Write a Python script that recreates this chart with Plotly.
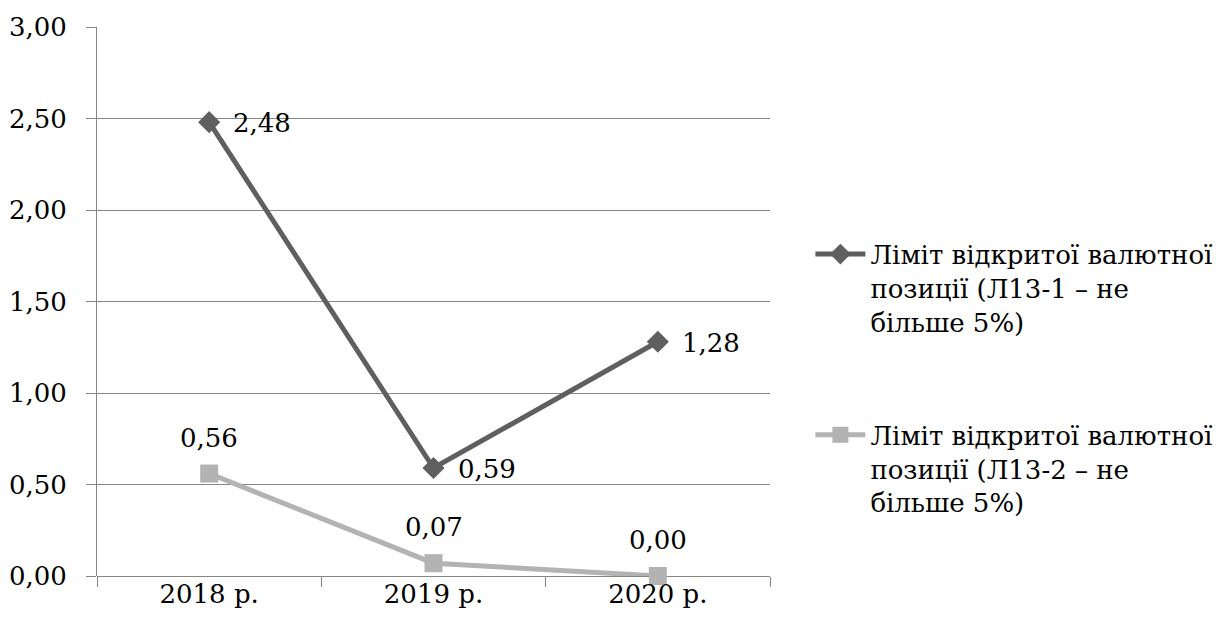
import plotly.graph_objects as go

years = ["2018 р.", "2019 р.", "2020 р."]
limit_l13_1 = [2.48, 0.59, 1.28]
limit_l13_2 = [0.56, 0.07, 0.00]
name_l13_1 = "Ліміт відкритої валютної<br>позиції (Л13-1 – не<br>більше 5%)"
name_l13_2 = "Ліміт відкритої валютної<br>позиції (Л13-2 – не<br>більше 5%)"

FONT = "DejaVu Serif"
GRID = "#878787"
DARK = "#5f5f5f"
LIGHT = "#b3b3b3"
FS = 26

def fmt(v):
    return f"{v:.2f}".replace(".", ",")

fig = go.Figure()
fig.add_trace(go.Scatter(
    x=years, y=limit_l13_1, name=name_l13_1, mode="lines+markers",
    line=dict(color=DARK, width=5),
    marker=dict(symbol="diamond", size=17, color=DARK),
    legend="legend", cliponaxis=False,
))
fig.add_trace(go.Scatter(
    x=years, y=limit_l13_2, name=name_l13_2, mode="lines+markers",
    line=dict(color=LIGHT, width=5),
    marker=dict(symbol="square", size=18, color=LIGHT),
    legend="legend2", cliponaxis=False,
))

# value labels: right of the dark series, above the light series
for x, v in zip(years, limit_l13_1):
    fig.add_annotation(x=x, y=v, text=fmt(v), showarrow=False,
                       xanchor="left", yanchor="middle", xshift=22, yshift=-1,
                       font=dict(family=FONT, size=FS, color="#000"))
for x, v in zip(years, limit_l13_2):
    fig.add_annotation(x=x, y=v, text=fmt(v), showarrow=False,
                       xanchor="center", yanchor="middle", yshift=36,
                       font=dict(family=FONT, size=FS, color="#000"))

legend_common = dict(
    font=dict(family=FONT, size=FS, color="#000"),
    bgcolor="rgba(0,0,0,0)", xanchor="left", yanchor="top",
    valign="top", itemwidth=50, tracegroupgap=0,
)

fig.update_layout(
    width=1230, height=630,
    margin=dict(l=97, r=460, t=27, b=54),
    paper_bgcolor="white", plot_bgcolor="white",
    separators=", ",
    font=dict(family=FONT, size=FS, color="#000"),
    showlegend=True,
    legend=dict(x=1.06, y=0.629, **legend_common),
    legend2=dict(x=1.06, y=0.30, **legend_common),
    xaxis=dict(
        type="category", range=[-0.5, 2.5], automargin=False,
        showgrid=False, showline=False, zeroline=False,
        ticks="outside", tickson="boundaries", ticklen=10,
        tickcolor=GRID, tickwidth=1,
        tickfont=dict(family=FONT, size=FS, color="#000"),
    ),
    yaxis=dict(
        range=[0, 3], dtick=0.5, tick0=0, tickformat=".2f", automargin=False,
        showgrid=True, gridcolor=GRID, gridwidth=1,
        zeroline=True, zerolinecolor=GRID, zerolinewidth=1,
        showline=True, linecolor=GRID, linewidth=1,
        ticks="outside", ticklen=10, tickcolor=GRID, tickwidth=1,
        ticklabelstandoff=14,
        tickfont=dict(family=FONT, size=FS, color="#000"),
    ),
)

fig.write_html("out.html")
